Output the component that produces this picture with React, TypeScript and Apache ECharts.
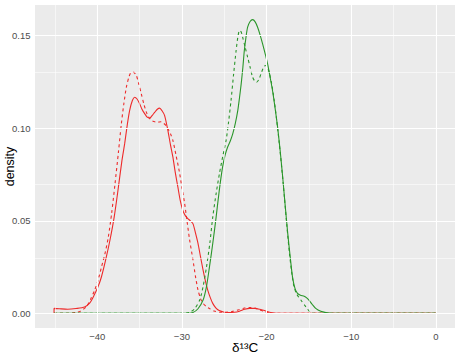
import React, { useEffect, useRef } from 'react';
import * as echarts from 'echarts';

const xMajor = [-40, -30, -20, -10, 0];
const xMinor = [-45, -35, -25, -15, -5];
const yMajor = [0, 0.05, 0.1, 0.15];
const yMinor = [0.025, 0.075, 0.125];

const redSolid: number[][] = [
  [-45.1, 0], [-45.1, 0.0027], [-44.5, 0.0025], [-43.5, 0.0022], [-42.5, 0.0026], [-41.5, 0.0034],
  [-40.9, 0.0055], [-40.4, 0.0095], [-39.9, 0.0145], [-39.5, 0.0198], [-39.0, 0.029], [-38.5, 0.0395],
  [-38.0, 0.052], [-37.55, 0.0665], [-37.1, 0.082], [-36.76, 0.0917], [-36.45, 0.102], [-36.17, 0.1097],
  [-35.85, 0.115], [-35.58, 0.1168], [-35.3, 0.1158], [-35.0, 0.1133], [-34.7, 0.1102], [-34.4, 0.1079],
  [-34.1, 0.106], [-33.8, 0.1055], [-33.5, 0.107], [-33.2, 0.1087], [-32.9, 0.1103], [-32.64, 0.1109],
  [-32.35, 0.1095], [-32.05, 0.107], [-31.66, 0.0989], [-31.35, 0.091], [-31.07, 0.0845], [-30.78, 0.076],
  [-30.48, 0.0683], [-30.2, 0.061], [-29.9, 0.0557], [-29.6, 0.0528], [-29.3, 0.0512], [-29.0, 0.05],
  [-28.7, 0.0485], [-28.4, 0.0435], [-28.1, 0.0378], [-27.8, 0.0305], [-27.5, 0.0234], [-27.2, 0.017],
  [-26.95, 0.0126], [-26.65, 0.0085], [-26.36, 0.0054], [-26.0, 0.003], [-25.6, 0.0015], [-25.0, 0.0006],
  [-24.5, 0.0004], [-23.8, 0.0006], [-23.2, 0.0012], [-22.6, 0.0022], [-22.0, 0.0027], [-21.4, 0.0027],
  [-20.8, 0.0022], [-20.1, 0.0013], [-19.5, 0.0005], [-18.8, 0.0001], [-18.0, 0], [0, 0]
];

const redDashed: number[][] = [
  [-45.1, 0], [-43.5, 0], [-42.5, 0.0005], [-42.0, 0.0012], [-41.6, 0.0024], [-41.27, 0.0036],
  [-40.8, 0.0075], [-40.3, 0.0126], [-39.9, 0.018], [-39.5, 0.025], [-39.1, 0.032], [-38.7, 0.041],
  [-38.3, 0.054], [-37.9, 0.07], [-37.5, 0.087], [-37.15, 0.1025], [-36.85, 0.1135], [-36.56, 0.1222],
  [-36.25, 0.1278], [-35.97, 0.1303], [-35.68, 0.1302], [-35.38, 0.1285], [-35.1, 0.124], [-34.8, 0.1187],
  [-34.5, 0.1132], [-34.2, 0.1087], [-33.9, 0.1058], [-33.6, 0.1043], [-33.2, 0.1035], [-32.84, 0.1033],
  [-32.5, 0.1035], [-32.25, 0.103], [-31.95, 0.1018], [-31.66, 0.0998], [-31.35, 0.097], [-31.07, 0.0935],
  [-30.7, 0.0855], [-30.3, 0.0765], [-30.0, 0.068], [-29.7, 0.06], [-29.4, 0.05], [-29.1, 0.04],
  [-28.7, 0.029], [-28.4, 0.02], [-28.1, 0.0126], [-27.8, 0.008], [-27.5, 0.0054], [-27.1, 0.0036],
  [-26.7, 0.0025], [-26.2, 0.0013], [-25.5, 0.0006], [-24.8, 0.0006], [-24.0, 0.0011], [-23.3, 0.002],
  [-22.6, 0.0029], [-22.0, 0.0032], [-21.4, 0.0029], [-20.8, 0.0019], [-20.2, 0.0008], [-19.6, 0.0002],
  [-19.0, 0], [0, 0]
];

const greenSolid: number[][] = [
  [-45.1, 0], [-29.5, 0], [-28.7, 0.0005], [-28.1, 0.0025], [-27.5, 0.0072], [-27.1, 0.0145],
  [-26.75, 0.025], [-26.35, 0.038], [-25.96, 0.052], [-25.6, 0.066], [-25.2, 0.079], [-24.9, 0.0855],
  [-24.6, 0.0899], [-24.3, 0.093], [-24.0, 0.097], [-23.7, 0.1025], [-23.4, 0.1097], [-23.2, 0.1165],
  [-23.0, 0.124], [-22.8, 0.133], [-22.63, 0.142], [-22.44, 0.149], [-22.24, 0.1546], [-21.95, 0.1577],
  [-21.65, 0.1587], [-21.35, 0.1575], [-21.06, 0.1546], [-20.77, 0.1505], [-20.47, 0.1456], [-20.18, 0.1405],
  [-19.88, 0.1348], [-19.6, 0.128], [-19.3, 0.1204], [-19.0, 0.111], [-18.7, 0.1006], [-18.4, 0.088],
  [-18.1, 0.0737], [-17.8, 0.058], [-17.5, 0.0431], [-17.2, 0.03], [-16.94, 0.0197], [-16.65, 0.0135],
  [-16.35, 0.0108], [-16.0, 0.0098], [-15.56, 0.0093], [-15.3, 0.0085], [-15.0, 0.0072], [-14.6, 0.0048],
  [-14.2, 0.0027], [-13.6, 0.0011], [-13.0, 0.0004], [-12.3, 0], [0, 0]
];

const greenDashed: number[][] = [
  [-45.1, 0], [-30.0, 0], [-29.1, 0.0005], [-28.5, 0.0025], [-27.9, 0.0072], [-27.5, 0.0145],
  [-27.1, 0.025], [-26.7, 0.038], [-26.36, 0.052], [-25.95, 0.065], [-25.57, 0.0755], [-25.17, 0.085],
  [-24.78, 0.0935], [-24.5, 0.103], [-24.2, 0.115], [-23.9, 0.129], [-23.6, 0.142], [-23.4, 0.149],
  [-23.2, 0.1528], [-23.0, 0.152], [-22.83, 0.1492], [-22.54, 0.144], [-22.24, 0.1384], [-21.95, 0.133],
  [-21.65, 0.1276], [-21.4, 0.1255], [-21.18, 0.1249], [-20.9, 0.1265], [-20.66, 0.1294], [-20.4, 0.1325],
  [-20.15, 0.1339], [-19.9, 0.133], [-19.7, 0.1303], [-19.4, 0.124], [-19.1, 0.115], [-18.8, 0.104],
  [-18.5, 0.0917], [-18.2, 0.078], [-17.9, 0.0629], [-17.6, 0.047], [-17.3, 0.0324], [-17.0, 0.021],
  [-16.76, 0.0143], [-16.45, 0.0105], [-15.95, 0.0072], [-15.36, 0.0035], [-14.8, 0.0005], [-14.3, 0], [0, 0]
];

const RED = '#EE2A2A';
const GREEN = '#2A962A';
const FONT = 'Liberation Sans, Arial, sans-serif';

export default function App() {
  const ref = useRef<HTMLDivElement>(null);
  useEffect(() => {
    document.body.style.margin = '0';
    const chart = echarts.init(ref.current!, null, { renderer: 'svg' });
    const gridLines = [
      ...xMinor.map((v) => ({ xAxis: v, lineStyle: { width: 0.55 } })),
      ...yMinor.map((v) => ({ yAxis: v, lineStyle: { width: 0.55 } })),
      ...xMajor.map((v) => ({ xAxis: v, lineStyle: { width: 1.1 } })),
      ...yMajor.map((v) => ({ yAxis: v, lineStyle: { width: 1.1 } })),
    ];
    const lineSeries = (name: string, data: number[][], color: string, dashed: boolean) => ({
      name,
      type: 'line',
      data,
      showSymbol: false,
      symbol: 'none',
      smooth: 0.25,
      z: 3,
      lineStyle: { color, width: 1.1, type: dashed ? [3, 3] : 'solid' },
      silent: true,
    });
    chart.setOption({
      animation: false,
      backgroundColor: '#ffffff',
      textStyle: { fontFamily: FONT },
      grid: {
        left: 35, right: 4, top: 5, bottom: 27,
        outerBoundsMode: 'none',
        containLabel: false,
        show: true, backgroundColor: '#EBEBEB', borderWidth: 0,
      },
      xAxis: {
        type: 'value',
        min: -47.35,
        max: 2.25,
        axisLine: { show: false },
        splitLine: { show: false },
        axisTick: { show: true, length: 2.75, customValues: xMajor, lineStyle: { color: '#333333', width: 1 } },
        axisLabel: {
          customValues: xMajor, color: '#4D4D4D', fontSize: 9.5, margin: 3.5, fontFamily: FONT,
          formatter: (v: number) => (v < 0 ? '\u2212' + Math.abs(v) : String(v)),
        },
        name: 'δ¹³C',
        nameLocation: 'middle',
        nameMoveOverlap: false,
        nameGap: 12,
        nameTextStyle: { fontSize: 13.5, color: '#000', fontFamily: FONT, verticalAlign: 'top' },
      },
      yAxis: {
        type: 'value',
        min: -0.0079,
        max: 0.1666,
        axisLine: { show: false },
        splitLine: { show: false },
        axisTick: { show: true, length: 2.75, customValues: yMajor, lineStyle: { color: '#333333', width: 1 } },
        axisLabel: {
          customValues: yMajor, color: '#4D4D4D', fontSize: 9.5, margin: 4.5, fontFamily: FONT,
          formatter: (v: number) => v.toFixed(2),
        },
        name: 'density',
        nameLocation: 'middle',
        nameMoveOverlap: false,
        nameRotate: 90,
        nameGap: 19,
        nameTextStyle: { fontSize: 12.5, color: '#000', fontFamily: FONT },
      },
      series: [
        {
          name: 'grid',
          type: 'line',
          data: [],
          z: 1,
          silent: true,
          markLine: {
            silent: true,
            symbol: 'none',
            animation: false,
            label: { show: false },
            lineStyle: { color: '#FFFFFF', type: 'solid' },
            emphasis: { disabled: true },
            data: gridLines,
          },
        },
        lineSeries('red solid', redSolid, RED, false),
        lineSeries('red dashed', redDashed, RED, true),
        lineSeries('green solid', greenSolid, GREEN, false),
        lineSeries('green dashed', greenDashed, GREEN, true),
      ],
    });
    return () => chart.dispose();
  }, []);
  return <div ref={ref} style={{ width: 459, height: 355 }} />;
}
